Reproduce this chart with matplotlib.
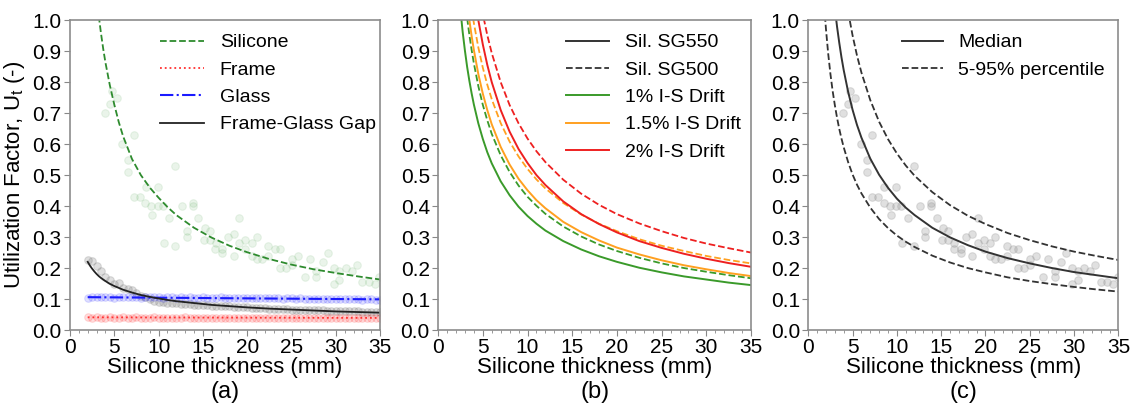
import numpy as np
import matplotlib
matplotlib.use("Agg")
import matplotlib.pyplot as plt
from matplotlib.ticker import MultipleLocator

plt.rcParams['font.family'] = ['Liberation Sans', 'DejaVu Sans']
plt.rcParams['mathtext.fontset'] = 'custom'
plt.rcParams['mathtext.rm'] = 'Liberation Sans'
plt.rcParams['mathtext.it'] = 'Liberation Sans'

# common thickness grid (mm) for the fitted curves; each curve covers the tail
thk = [1.8, 2, 2.25, 2.5, 2.75, 3, 3.25, 3.5, 3.75, 4, 4.5, 5, 5.5, 6, 7, 8, 9, 10,
       11, 12, 14, 16, 18, 20, 22.5, 25, 27.5, 30, 32.5, 35]

# (a) fitted curves
silicone_fit = [1.014, 0.958, 0.908, 0.864, 0.790, 0.728, 0.672, 0.625, 0.552, 0.500,
                0.460, 0.427, 0.397, 0.371, 0.330, 0.298, 0.272, 0.251, 0.229, 0.211,
                0.196, 0.184, 0.173, 0.163]
gap_fit = [0.220, 0.208, 0.198, 0.189, 0.181, 0.174, 0.168, 0.163, 0.158, 0.149,
           0.142, 0.136, 0.130, 0.121, 0.113, 0.107, 0.102, 0.097, 0.093, 0.087,
           0.081, 0.077, 0.073, 0.069, 0.066, 0.063, 0.060, 0.058, 0.056]
glass_fit_x = [2, 35]
glass_fit = [0.106, 0.099]
frame_fit_x = [2, 35]
frame_fit = [0.041, 0.039]

# (a) samples on 0.5 mm steps
samp_x = np.arange(2, 35.01, 0.5)
gap_pts = [0.225, 0.222, 0.205, 0.190, 0.170, 0.160, 0.150, 0.152, 0.135, 0.132,
           0.128, 0.120, 0.110, 0.105, 0.100, 0.095, 0.092, 0.090, 0.088, 0.087,
           0.086, 0.085, 0.084, 0.083, 0.082, 0.081, 0.080, 0.080, 0.079, 0.078,
           0.077, 0.076, 0.076, 0.075, 0.074, 0.073, 0.073, 0.072, 0.071, 0.071,
           0.070, 0.069, 0.069, 0.068, 0.068, 0.067, 0.066, 0.066, 0.065, 0.065,
           0.064, 0.064, 0.063, 0.063, 0.062, 0.062, 0.062, 0.061, 0.061, 0.060,
           0.060, 0.060, 0.059, 0.059, 0.059, 0.058, 0.058]
glass_pts = [0.104, 0.105, 0.106, 0.105, 0.106, 0.105, 0.104, 0.106, 0.105, 0.105,
             0.106, 0.105, 0.104, 0.105, 0.106, 0.105, 0.105, 0.104, 0.105, 0.105,
             0.104, 0.106, 0.104, 0.105, 0.104, 0.104, 0.105, 0.103, 0.104, 0.104,
             0.105, 0.103, 0.104, 0.104, 0.103, 0.104, 0.103, 0.102, 0.104, 0.103,
             0.102, 0.103, 0.102, 0.103, 0.101, 0.102, 0.102, 0.101, 0.102, 0.101,
             0.101, 0.100, 0.101, 0.100, 0.101, 0.100, 0.099, 0.100, 0.100, 0.099,
             0.100, 0.099, 0.098, 0.099, 0.099, 0.098, 0.098]
frame_pts = [0.041, 0.040, 0.041, 0.040, 0.040, 0.041, 0.040, 0.040, 0.041, 0.040,
             0.040, 0.041, 0.040, 0.040, 0.040, 0.041, 0.040, 0.040, 0.039, 0.040,
             0.040, 0.040, 0.041, 0.040, 0.039, 0.040, 0.040, 0.040, 0.039, 0.040,
             0.040, 0.039, 0.040, 0.040, 0.040, 0.039, 0.040, 0.039, 0.040, 0.040,
             0.039, 0.040, 0.039, 0.040, 0.039, 0.039, 0.040, 0.039, 0.040, 0.039,
             0.039, 0.040, 0.039, 0.039, 0.039, 0.040, 0.039, 0.039, 0.039, 0.038,
             0.039, 0.039, 0.039, 0.038, 0.039, 0.039, 0.038]

# silicone test points (used in a and c)
sil_x = [3.9, 4.5, 4.7, 5.3, 5.9, 6.6, 6.6, 7.2, 7.2, 7.9, 8.5, 8.6, 9.2, 9.3, 9.9,
         9.9, 10.5, 10.6, 11.2, 11.9, 11.9, 12.6, 13.2, 13.2, 13.9, 13.9, 14.5, 15.1,
         15.2, 15.8, 15.8, 16.4, 16.5, 17.2, 17.2, 17.8, 18.5, 18.5, 19.1, 19.1, 19.8,
         19.8, 20.5, 20.5, 21.1, 21.1, 21.7, 22.4, 22.4, 23.1, 23.7, 23.7, 24.4, 25.0,
         25.0, 25.7, 26.5, 27.1, 27.8, 27.8, 28.5, 29.1, 29.8, 29.8, 30.4, 30.4, 31.1,
         31.8, 32.4, 33.0, 33.7, 34.4, 34.9]
sil_y = [0.70, 0.73, 0.77, 0.75, 0.60, 0.55, 0.51, 0.63, 0.43, 0.43, 0.41, 0.46, 0.40,
         0.37, 0.46, 0.40, 0.40, 0.28, 0.36, 0.53, 0.27, 0.40, 0.32, 0.30, 0.41, 0.40,
         0.36, 0.29, 0.33, 0.32, 0.29, 0.26, 0.28, 0.26, 0.25, 0.30, 0.31, 0.24, 0.36,
         0.28, 0.29, 0.26, 0.28, 0.24, 0.30, 0.23, 0.23, 0.27, 0.24, 0.26, 0.26, 0.20,
         0.20, 0.23, 0.21, 0.24, 0.17, 0.23, 0.17, 0.19, 0.22, 0.25, 0.20, 0.15, 0.19,
         0.16, 0.20, 0.19, 0.21, 0.155, 0.155, 0.15, 0.17]

# (b) drift scenarios, SG550 solid / SG500 dashed
d1_sg550 = [1.033, 0.962, 0.902, 0.849, 0.804, 0.764, 0.728, 0.667, 0.617, 0.574,
            0.538, 0.480, 0.435, 0.398, 0.368, 0.343, 0.321, 0.287, 0.260, 0.238,
            0.220, 0.201, 0.186, 0.173, 0.163, 0.153, 0.145]
d1_sg500 = [1.007, 0.952, 0.904, 0.861, 0.787, 0.727, 0.677, 0.633, 0.564, 0.510,
            0.466, 0.430, 0.401, 0.375, 0.334, 0.302, 0.276, 0.255, 0.233, 0.215,
            0.200, 0.188, 0.177, 0.167]
d15_sg550 = [1.058, 1.000, 0.949, 0.904, 0.826, 0.763, 0.710, 0.664, 0.591, 0.534,
             0.488, 0.451, 0.419, 0.393, 0.349, 0.316, 0.289, 0.266, 0.244, 0.225,
             0.209, 0.196, 0.184, 0.174]
d15_sg500 = [1.037, 0.991, 0.912, 0.847, 0.792, 0.745, 0.668, 0.608, 0.560, 0.520,
             0.486, 0.457, 0.410, 0.373, 0.343, 0.319, 0.293, 0.272, 0.255, 0.239,
             0.226, 0.215]
d2_sg550 = [1.096, 1.000, 0.922, 0.856, 0.800, 0.710, 0.640, 0.584, 0.539, 0.500,
            0.468, 0.415, 0.374, 0.342, 0.315, 0.287, 0.265, 0.246, 0.230, 0.216,
            0.204]
d2_sg500 = [1.101, 1.020, 0.952, 0.894, 0.800, 0.726, 0.667, 0.618, 0.577, 0.542,
            0.485, 0.440, 0.404, 0.374, 0.344, 0.319, 0.297, 0.279, 0.264, 0.250]

# (c) median and 5-95% band
median = [1.039, 0.979, 0.927, 0.880, 0.839, 0.769, 0.711, 0.662, 0.621, 0.553,
          0.501, 0.459, 0.424, 0.395, 0.371, 0.330, 0.299, 0.274, 0.253, 0.232,
          0.215, 0.200, 0.187, 0.177, 0.167]
p95 = [1.028, 0.951, 0.886, 0.831, 0.742, 0.672, 0.616, 0.570, 0.531, 0.498,
       0.445, 0.403, 0.369, 0.342, 0.313, 0.290, 0.270, 0.253, 0.239, 0.226]
p05 = [1.047, 0.971, 0.892, 0.827, 0.772, 0.726, 0.685, 0.649, 0.618, 0.590,
       0.542, 0.502, 0.469, 0.441, 0.395, 0.358, 0.329, 0.305, 0.285, 0.268,
       0.240, 0.218, 0.200, 0.186, 0.170, 0.158, 0.148, 0.139, 0.131, 0.124]


def tail(vals):
    return thk[-len(vals):]


def style_axis(ax, panel):
    ax.set_xlim(0, 35)
    ax.set_ylim(0, 1)
    ax.xaxis.set_major_locator(MultipleLocator(5))
    ax.xaxis.set_minor_locator(MultipleLocator(1))
    ax.yaxis.set_major_locator(MultipleLocator(0.1))
    ax.tick_params(axis='both', which='major', labelsize=15, length=4, color='#888888', pad=2)
    ax.tick_params(axis='x', which='minor', length=2, color='#888888')
    for s in ax.spines.values():
        s.set_color('#8c8c8c')
        s.set_linewidth(1.2)
    ax.set_xlabel('Silicone thickness (mm)', fontsize=16, labelpad=0)
    ax.text(0.5, -0.2, panel, transform=ax.transAxes, ha='center', va='center', fontsize=17)


fig = plt.figure(figsize=(11.32, 4.12), dpi=100)
ax1 = fig.add_axes([0.0618, 0.199, 0.274, 0.752])
ax2 = fig.add_axes([0.387, 0.199, 0.2765, 0.752])
ax3 = fig.add_axes([0.714, 0.199, 0.274, 0.752])

# (a)
ax1.scatter(sil_x, sil_y, s=30, color='#3a9a3a', alpha=0.1, linewidths=0.8)
ax1.scatter(samp_x, gap_pts, s=30, color='grey', alpha=0.25, linewidths=0.8)
ax1.scatter(samp_x, glass_pts, s=30, color='blue', alpha=0.12, linewidths=0.8)
ax1.scatter(samp_x, frame_pts, s=30, color='red', alpha=0.13, linewidths=0.8)
ax1.plot(tail(silicone_fit), silicone_fit, '--', color='#2e8b2e', lw=1.3, label='Silicone')
ax1.plot(frame_fit_x, frame_fit, ':', color='#ff3030', lw=1.3, label='Frame')
ax1.plot(glass_fit_x, glass_fit, '-.', color='#1a1aff', lw=1.5, label='Glass')
ax1.plot(tail(gap_fit), gap_fit, '-', color='#222222', lw=1.3, label='Frame-Glass Gap')
style_axis(ax1, '(a)')
ax1.set_ylabel('Utilization Factor, U$_\\mathrm{t}$ (-)', fontsize=16, labelpad=4)
ax1.legend(loc='upper right', bbox_to_anchor=(1.03, 1.0), frameon=False, fontsize=14,
           handlelength=2.3, labelspacing=0.5, borderaxespad=0.3)

# (b)
green, orange, red = '#3a9a2a', '#ffa020', '#ee2020'
ax2.plot(tail(d1_sg550), d1_sg550, '-', color=green, lw=1.4)
ax2.plot(tail(d1_sg500), d1_sg500, '--', color=green, lw=1.3)
ax2.plot(tail(d15_sg550), d15_sg550, '-', color=orange, lw=1.4)
ax2.plot(tail(d15_sg500), d15_sg500, '--', color=orange, lw=1.3)
ax2.plot(tail(d2_sg550), d2_sg550, '-', color=red, lw=1.4)
ax2.plot(tail(d2_sg500), d2_sg500, '--', color=red, lw=1.3)
ax2.plot([], [], '-', color='#333333', lw=1.4, label='Sil. SG550')
ax2.plot([], [], '--', color='#333333', lw=1.3, label='Sil. SG500')
ax2.plot([], [], '-', color=green, lw=1.4, label='1% I-S Drift')
ax2.plot([], [], '-', color=orange, lw=1.4, label='1.5% I-S Drift')
ax2.plot([], [], '-', color=red, lw=1.4, label='2% I-S Drift')
style_axis(ax2, '(b)')
ax2.legend(loc='upper right', bbox_to_anchor=(1.01, 1.0), frameon=False, fontsize=14,
           handlelength=2.2, labelspacing=0.5, borderaxespad=0.3)

# (c)
ax3.scatter(sil_x, sil_y, s=30, color='#9a9a9a', alpha=0.3, linewidths=0.8)
ax3.plot(tail(median), median, '-', color='#333333', lw=1.4, label='Median')
ax3.plot(tail(p95), p95, '--', color='#333333', lw=1.3, label='5-95% percentile')
ax3.plot(tail(p05), p05, '--', color='#333333', lw=1.3)
style_axis(ax3, '(c)')
ax3.legend(loc='upper right', bbox_to_anchor=(1.0, 1.0), frameon=False, fontsize=14,
           handlelength=2.1, labelspacing=0.5, borderaxespad=0.3)

fig.savefig('out.png', dpi=100)
